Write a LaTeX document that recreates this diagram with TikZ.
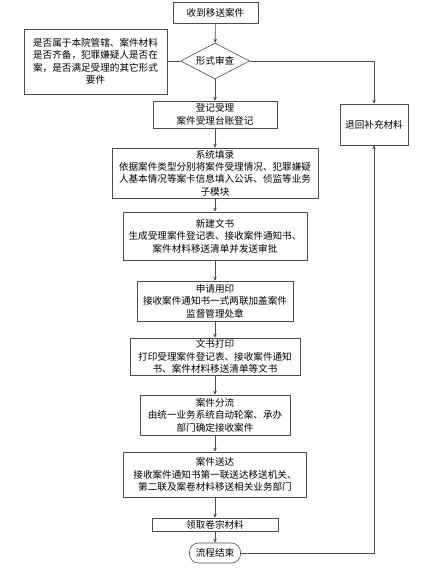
\documentclass[tikz,border=0pt]{standalone}
\usepackage{fontspec}
\setmainfont{Noto Sans CJK SC}
\usetikzlibrary{shapes.geometric,arrows.meta}
\begin{document}
\begin{tikzpicture}[x=1pt,y=-1pt,
  every node/.style={font=\fontsize{9.6}{12.4}\selectfont, align=center, inner sep=0pt},
  box/.style={draw=black!70, line width=0.6pt, rectangle},
  conn/.style={draw=black!70, line width=0.6pt},
  arr/.style={conn, -{Stealth[length=4pt,width=3.6pt]}}]
\useasboundingbox (0,0) rectangle (438,570);
\node[box, minimum width=85pt, minimum height=21pt] (start) at (215.5,12.5) {收到移送案件};
\node[draw=black!70, line width=0.6pt, diamond, aspect=1.9, minimum width=69pt, minimum height=36pt] (check) at (215,61) {形式审查};
\node[box, minimum width=143pt, minimum height=65pt] (cond) at (95.5,61.5) {是否属于本院管辖、案件材料\\是否齐备，犯罪嫌疑人是否在\\案，是否满足受理的其它形式\\要件};
\node[box, minimum width=68pt, minimum height=41pt] (ret) at (374,124.5) {退回补充材料};
\node[box, minimum width=124pt, minimum height=27pt] (reg) at (215,114.5) {登记受理\\案件受理台账登记};
\node[box, minimum width=206pt, minimum height=50pt] (sys) at (215,173) {系统填录\\依据案件类型分别将案件受理情况、犯罪嫌疑\\人基本情况等案卡信息填入公诉、侦监等业务\\子模块};
\node[box, minimum width=184pt, minimum height=48pt] (doc) at (215,236) {新建文书\\生成受理案件登记表、接收案件通知书、\\案件材料移送清单并发送审批};
\node[box, minimum width=156pt, minimum height=40pt] (seal) at (215,301) {申请用印\\接收案件通知书一式两联加盖案件\\监督管理处章};
\node[box, minimum width=170pt, minimum height=37pt] (print) at (215,356.5) {文书打印\\打印受理案件登记表、接收案件通知\\书、案件材料移送清单等文书};
\node[box, minimum width=150pt, minimum height=40pt] (dist) at (215,415) {案件分流\\由统一业务系统自动轮案、承办\\部门确定接收案件};
\node[box, minimum width=183pt, minimum height=45pt] (send) at (215,474.5) {案件送达\\接收案件通知书第一联送达移送机关、\\第二联及案卷材料移送相关业务部门};
\node[box, minimum width=126pt, minimum height=13pt] (take) at (215,524.5) {领取卷宗材料};
\node[box, rounded corners=9pt, minimum width=51pt, minimum height=20pt] (end) at (215,553) {流程结束};
\draw[arr] (start) -- (check);
\draw[conn] (cond.east |- check.west) -- (check.west);
\draw[arr] (check.east) -| (ret.north);
\draw[arr] (check) -- (reg);
\draw[arr] (reg) -- (sys);
\draw[arr] (sys) -- (doc);
\draw[arr] (doc) -- (seal);
\draw[arr] (seal) -- (print);
\draw[arr] (print) -- (dist);
\draw[arr] (dist) -- (send);
\draw[arr] (send) -- (take);
\draw[arr] (take) -- (end);
\draw[arr] (end.east) -| (ret.south);
\end{tikzpicture}
\end{document}
